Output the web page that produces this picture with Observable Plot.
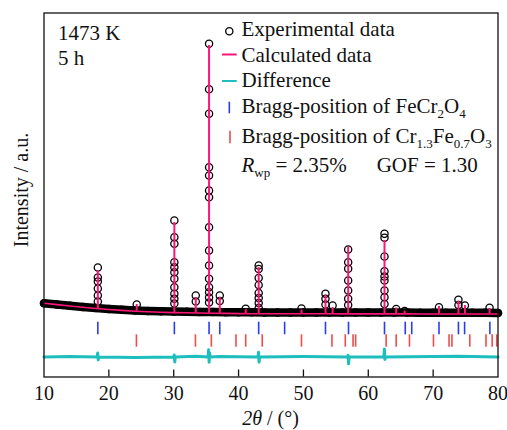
<!DOCTYPE html>
<html><head><meta charset="utf-8">
<script src="https://cdn.jsdelivr.net/npm/d3@7"></script>
<script src="https://cdn.jsdelivr.net/npm/@observablehq/plot@0.6"></script>
<style>body{margin:0;background:#fff}</style>
</head><body><div id="chart"></div>
<script>
// ---- data ----
const xTicks = [10, 20, 30, 40, 50, 60, 70, 80];
const bgAngles = [10,12,14,16,18,20,22,24,26,28,30,32,34,36,38,40,42,44,46,48,50,52,54,56,58,60,62,64,66,68,70,72,74,76,78,80];
const bgCalc = [1390,1320,1250,1185,1125,1075,1030,990,960,940,920,910,900,890,880,870,866,864,862,861,860,860,859,858,857,856,855,855,854,853,852,852,851,851,850,850];
const bgObs  = [1390,1330,1265,1205,1145,1100,1060,1030,1005,990,975,965,955,945,940,935,932,930,929,928,927,926,925,924,923,922,921,920,919,918,917,916,915,914,913,900];
const peakAngles   = [18.3, 24.3, 30.1, 33.4, 35.45, 37.1, 41.1, 43.1, 49.7, 53.4, 54.5, 56.9, 62.5, 64.3, 65.6, 70.9, 73.9, 74.9, 78.7];
const peakCalcTops = [3025, 1325, 5425, 1675, 14275, 1675, 1075, 3175, 1050, 1775, 1175, 4190, 4525, 1150, 990, 1225, 1490, 1275, 1125];
const peakObs = [
  [3175, 2675, 2475, 2125, 1775, 1475],
  [1325],
  [5525, 4690, 4360, 3440, 3190, 2940, 2610, 2190, 1860, 1610, 1375],
  [1775, 1475],
  [14360, 12090, 10860, 8190, 7775, 7025, 6690, 5190, 4025, 3275, 2610, 2190, 1940, 1675, 1425],
  [1775, 1500],
  [1110],
  [3275, 3100, 2650, 2300, 1900, 1650, 1400, 1150],
  [1125],
  [1860, 1610, 1325],
  [1275],
  [4075, 3440, 3110, 2525, 2025, 1610, 1300],
  [4860, 4660, 3725, 2990, 2725, 2525, 2025, 1690, 1350],
  [1100],
  [1000],
  [1190],
  [1560, 1300],
  [1275],
  [1160]
];
const diffOffset = -1300;
const diffAngles = [10, 14, 18.2, 18.28, 18.36, 18.45, 24, 30.0, 30.08, 30.16, 30.25, 33.4, 35.3, 35.38, 35.46, 35.54, 35.62, 37.1, 43.0, 43.08, 43.16, 43.25, 50, 56.8, 56.88, 56.96, 57.05, 62.4, 62.48, 62.56, 62.65, 70, 74, 80];
const diffValues = [0, 20, 0, 200, -150, 0, -20, 0, 100, -250, 0, 40, 0, 360, -260, 200, 0, 30, 0, 240, -260, 0, 20, 0, 80, -340, 0, 0, 400, -120, 0, 20, 40, 0];
const braggFeCr2O4 = [18.3, 30.1, 35.45, 37.1, 43.1, 47.1, 53.4, 56.95, 62.5, 65.7, 66.7, 70.9, 73.9, 74.85, 78.75];
const braggCrFeO3  = [24.25, 33.35, 35.8, 39.6, 41.1, 43.65, 49.7, 54.4, 56.45, 57.65, 58.05, 62.75, 64.3, 66.35, 70.05, 72.45, 72.9, 75.65, 78.15, 79.1, 79.8];
const braggRowFeCr2O4 = [-190, 440];
const braggRowCrFeO3  = [-810, -190];
const yDomain = [-2300, 15900];
const legendLabels = [
  [{t: "Experimental data"}],
  [{t: "Calculated data"}],
  [{t: "Difference"}],
  [{t: "Bragg-position of FeCr"}, {t: "2", sub: true}, {t: "O"}, {t: "4", sub: true}],
  [{t: "Bragg-position of Cr"}, {t: "1.3", sub: true}, {t: "Fe"}, {t: "0.7", sub: true}, {t: "O"}, {t: "3", sub: true}]
];
const statsLabel = [{t: "R", i: true}, {t: "wp", sub: true}, {t: " = 2.35%"}];
const gofLabel = "GOF = 1.30";
const conditionLabels = ["1473 K", "5 h"];

// ---- styles ----
const PINK = "#ff1478", CYAN = "#1ebebe", BLUE = "#2a3cf0", RED = "#f04c4c";
const FONT = "'Liberation Serif', 'Times New Roman', serif";

// ---- tables ----
const bgCalcRows = bgAngles.map((a, i) => ({angle: a, count: bgCalc[i]}));
const bgObsRows = bgAngles.map((a, i) => ({angle: a, count: bgObs[i]}));
const nearestBg = a => bgCalc[d3.minIndex(bgAngles, b => Math.abs(b - a))];
const peakRows = peakAngles.map((a, i) => ({angle: a, top: peakCalcTops[i], base: nearestBg(a)}));
const peakObsRows = peakAngles.flatMap((a, i) => peakObs[i].map(c => ({angle: a, count: c})));
const diffRows = diffAngles.map((a, i) => ({angle: a, count: diffOffset + diffValues[i]}));

const chart = Plot.plot({
  width: 507, height: 430,
  marginLeft: 43.5, marginRight: 9.5, marginTop: 12.5, marginBottom: 53.5,
  x: {domain: [10, 80]},
  y: {domain: yDomain, axis: null},
  style: {fontFamily: FONT, background: "white", color: "#111"},
  marks: [
    Plot.line(diffRows, {x: "angle", y: "count", stroke: CYAN, strokeWidth: 3}),
    Plot.ruleX(braggFeCr2O4, {y1: braggRowFeCr2O4[0], y2: braggRowFeCr2O4[1], stroke: BLUE, strokeWidth: 1.6}),
    Plot.ruleX(braggCrFeO3, {y1: braggRowCrFeO3[0], y2: braggRowCrFeO3[1], stroke: RED, strokeWidth: 1.6}),
    Plot.line(bgObsRows, {x: "angle", y: "count", stroke: "#000", strokeWidth: 8.5, strokeLinecap: "round", strokeLinejoin: "round"}),
    Plot.dot(bgObsRows, {x: "angle", y: "count", r: 3.6, stroke: "#000", strokeWidth: 1.3}),
    Plot.dot(peakObsRows, {x: "angle", y: "count", r: 3.6, stroke: "#000", strokeWidth: 1.3}),
    Plot.line(bgCalcRows, {x: "angle", y: "count", stroke: PINK, strokeWidth: 1.6}),
    Plot.ruleX(peakRows, {x: "angle", y1: "base", y2: "top", stroke: PINK, strokeWidth: 2}),
    Plot.frame({stroke: "#111", strokeWidth: 1.3}),
    Plot.tickX(xTicks.slice(1, -1), {insetTop: 357, stroke: "#111", strokeWidth: 1.3}),
    Plot.axisX({ticks: xTicks, tickSize: 0, tickPadding: 9, fontSize: 20, label: null, tickFormat: d => String(d)})
  ]
});
document.getElementById("chart").appendChild(chart);

// ---- annotations and legend ----
const svg = d3.select(chart);
const g = svg.append("g").attr("font-family", FONT).attr("fill", "#111").attr("text-anchor", "start");
function rich(parent, x, y, parts, size, anchor) {
  const t = parent.append("text").attr("x", x).attr("y", y).attr("font-size", size)
    .attr("text-anchor", anchor || "start");
  let shift = 0;
  parts.forEach(p => {
    const target = p.sub ? 5 : 0;
    const s = t.append("tspan").attr("dy", target - shift).text(p.t);
    shift = target;
    if (p.sub) s.attr("font-size", 13);
    if (p.i) s.attr("font-style", "italic");
  });
  return t;
}
conditionLabels.forEach((s, i) => g.append("text").attr("x", 58).attr("y", 40 + i * 25)
  .attr("font-size", 21).attr("text-anchor", "start").text(s));

const lx = 241.5, mx = 229.3;
const baselines = [36, 62.3, 87.3, 113.3, 143.3];
legendLabels.forEach((parts, i) => rich(g, lx, baselines[i], parts, 21));
g.append("circle").attr("cx", mx).attr("cy", 31.3).attr("r", 3.6).attr("fill", "none").attr("stroke", "#000").attr("stroke-width", 1.3);
g.append("line").attr("x1", 222).attr("x2", 236.7).attr("y1", 54.5).attr("y2", 54.5).attr("stroke", PINK).attr("stroke-width", 2);
g.append("line").attr("x1", 222).attr("x2", 236.7).attr("y1", 81).attr("y2", 81).attr("stroke", CYAN).attr("stroke-width", 2);
g.append("line").attr("x1", mx).attr("x2", mx).attr("y1", 101.7).attr("y2", 113.3).attr("stroke", BLUE).attr("stroke-width", 1.6);
g.append("line").attr("x1", mx + 0.7).attr("x2", mx + 0.7).attr("y1", 130.7).attr("y2", 143.3).attr("stroke", RED).attr("stroke-width", 1.6);
rich(g, lx, 171.7, statsLabel, 21);
g.append("text").attr("x", 376.7).attr("y", 171.7).attr("font-size", 21).attr("text-anchor", "start").text(gofLabel);

// axis titles
rich(g, 270.5, 425, [{t: "2θ", i: true}, {t: " / (°)"}], 20, "middle");
g.append("text").attr("transform", "translate(27.5,190) rotate(-90)").attr("text-anchor", "middle")
  .attr("font-size", 20).text("Intensity / a.u.");
</script>
</body></html>
